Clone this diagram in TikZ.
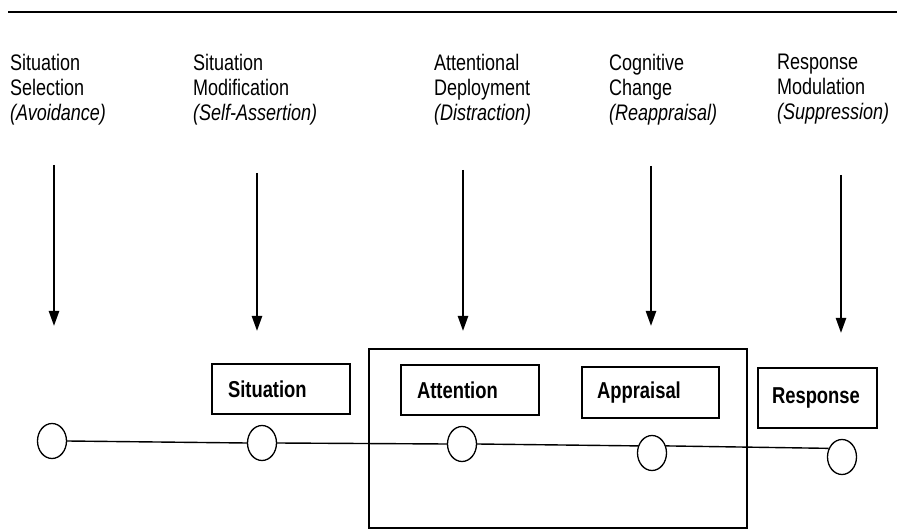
\documentclass[tikz,border=0pt]{standalone}
\usepackage{fontspec}
\setmainfont{Liberation Sans}
\newfontfamily\narrowsans[FakeStretch=0.8]{Liberation Sans}
\usetikzlibrary{arrows.meta,shapes.geometric}
\begin{document}
\begin{tikzpicture}[x=1pt,y=-1pt,
  lbl/.style={anchor=north west, inner sep=0pt, align=left, font=\narrowsans\fontsize{22.5}{25}\selectfont},
  stagebox/.style={draw, line width=1.4pt, inner ysep=0pt, align=left, font=\narrowsans\bfseries\fontsize{23}{25}\selectfont},
  stage/.style={draw, fill=white, ellipse, line width=1.3pt, minimum width=29pt, minimum height=35pt, inner sep=0pt},
  downarrow/.style={line width=2.3pt, -{Triangle[length=15pt,width=10pt]}},
  timeline/.style={line width=1.4pt},
  rule/.style={line width=2pt}]
\useasboundingbox (0,0) rectangle (897,529);

% top rule
\coordinate (r1) at (8,12);
\coordinate (r2) at (897,12);
\draw[rule] (r1) -- (r2);

% strategy labels
\node[lbl] (t1) at (10,54)  {Situation\\Selection\\\textit{(Avoidance)}};
\node[lbl] (t2) at (193,54) {Situation\\Modification\\\textit{(Self-Assertion)}};
\node[lbl] (t3) at (434,54) {Attentional\\Deployment\\\textit{(Distraction)}};
\node[lbl] (t4) at (609,54) {Cognitive\\Change\\\textit{(Reappraisal)}};
\node[lbl] (t5) at (777,54) {Response\\Modulation\\\textit{(Suppression)}};

% arrows
\coordinate (a1s) at (54,165);  \coordinate (a1e) at (54,326);
\coordinate (a2s) at (257,173); \coordinate (a2e) at (257,331);
\coordinate (a3s) at (463,170); \coordinate (a3e) at (463,331);
\coordinate (a4s) at (651,166); \coordinate (a4e) at (651,326);
\coordinate (a5s) at (841,175); \coordinate (a5e) at (841,333);
\draw[downarrow] (a1s) -- (a1e);
\draw[downarrow] (a2s) -- (a2e);
\draw[downarrow] (a3s) -- (a3e);
\draw[downarrow] (a4s) -- (a4e);
\draw[downarrow] (a5s) -- (a5e);

% big frame around attention and appraisal
\coordinate (f1) at (369,349);
\coordinate (f2) at (747,528);
\draw[line width=1.4pt] (f1) rectangle (f2);

% stage boxes
\node[stagebox, minimum width=138pt, minimum height=50pt, inner xsep=16pt, text width=106pt] (bs) at (281,389) {Situation};
\node[stagebox, minimum width=138pt, minimum height=50pt, inner xsep=16pt, text width=106pt] (ba) at (470,390) {Attention};
\node[stagebox, minimum width=137pt, minimum height=51pt, inner xsep=15pt, text width=107pt] (bp) at (650.5,392.5) {Appraisal};
\node[stagebox, minimum width=119pt, minimum height=60pt, inner xsep=14pt, text width=91pt] (br) at (817.5,398) {Response};

% timeline circles
\node[stage] (c1) at (52,441) {};
\node[stage] (c2) at (262,443) {};
\node[stage] (c3) at (462,444) {};
\node[stage] (c4) at (652,453) {};
\node[stage] (c5) at (842,457) {};

\draw[timeline] (c1.east) -- (c2.west);
\draw[timeline] (c2.east) -- (c3.west);
\draw[timeline] (c3.east) -- (c4.153);
\draw[timeline] (c4.27) -- (c5.147);
\end{tikzpicture}
\end{document}
